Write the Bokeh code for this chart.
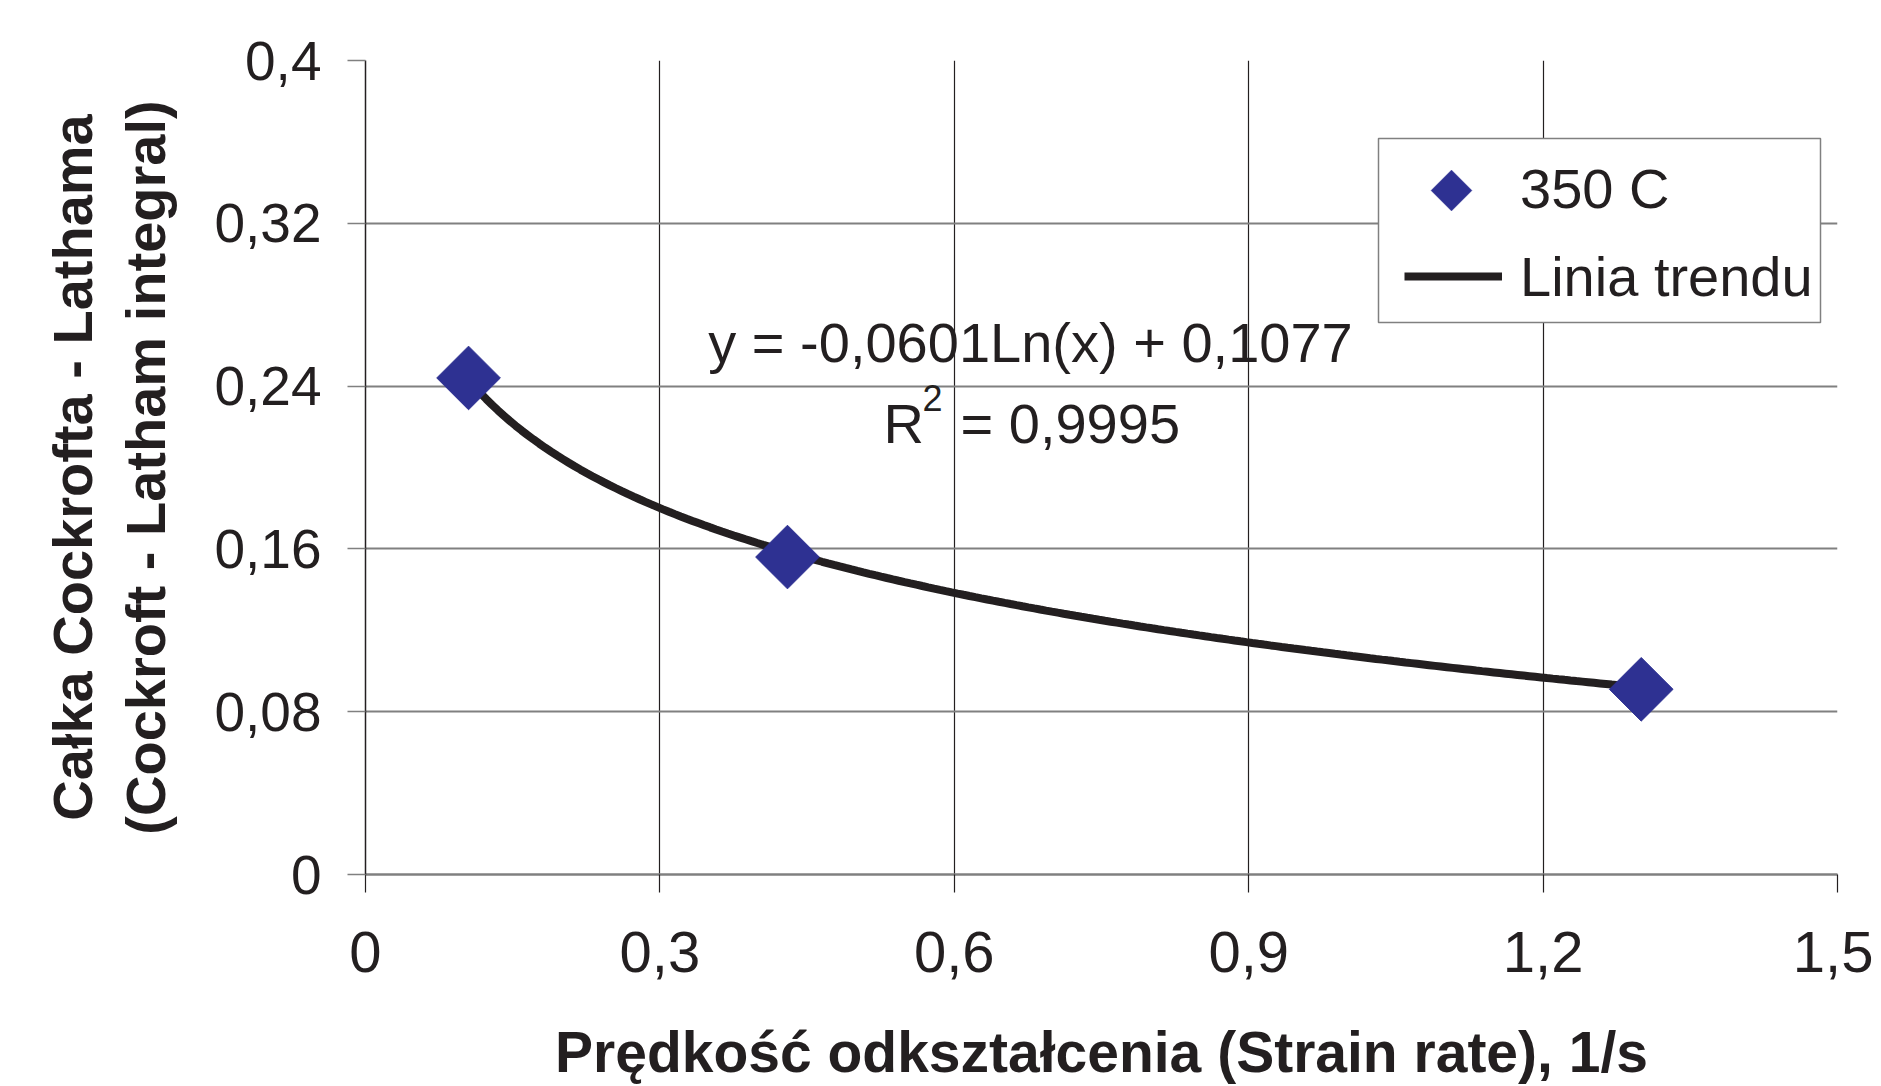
import numpy as np
from bokeh.plotting import figure
from bokeh.models import (Range1d, FixedTicker, CustomJSTickFormatter, Legend, LegendItem,
                          Label, PolyAnnotation, BoxAnnotation)
from bokeh.embed import file_html
from bokeh.resources import INLINE

# ---- data ----
strain_rate = [0.105, 0.43, 1.30]
cl_integral = [0.244, 0.156, 0.091]
trend_a = -0.0601   # y = a*Ln(x) + b
trend_b = 0.1077
r_squared = "0,9995"
x_ticks = [0, 0.3, 0.6, 0.9, 1.2, 1.5]
y_ticks = [0, 0.08, 0.16, 0.24, 0.32, 0.4]
series_name = "350 C"
trend_name = "Linia trendu"
x_title = "Prędkość odkształcenia (Strain rate), 1/s"
y_title = "Całka Cockrofta - Lathama\n(Cockroft - Latham integral)"

# trendline from the printed equation
tx = np.linspace(min(strain_rate), max(strain_rate), 200)
ty = trend_a * np.log(tx) + trend_b

FONT = "Liberation Sans"
TXT = "#231F20"
BLUE = "#2E3192"

X0, X1, Y0, Y1 = 0, 1.5, 0, 0.4
FW, FH = 1472, 814   # intended frame size in px

p = figure(width=1873, height=1086, output_backend="svg", toolbar_location=None,
           x_range=Range1d(X0, X1), y_range=Range1d(Y0, Y1),
           min_border_left=365, min_border_right=36, min_border_top=60, min_border_bottom=212)
p.outline_line_color = None
p.background_fill_color = "white"
p.border_fill_color = "white"

fmt = CustomJSTickFormatter(code="return String(Math.round(tick*100)/100).replace('.', ',');")

p.xaxis.ticker = FixedTicker(ticks=x_ticks)
p.yaxis.ticker = FixedTicker(ticks=y_ticks)
p.xaxis.formatter = fmt
p.yaxis.formatter = fmt

for ax in (p.xaxis, p.yaxis):
    ax.major_label_text_font = FONT
    ax.major_label_text_color = TXT
    ax.axis_label_text_font = FONT
    ax.axis_label_text_font_style = "bold"
    ax.axis_label_text_color = TXT
    ax.minor_tick_line_color = None
    ax.major_tick_in = 0
    ax.major_tick_out = 18

p.xaxis.major_label_text_font_size = "58px"
p.yaxis.major_label_text_font_size = "55px"
p.xaxis.axis_label_text_font_size = "57px"
p.yaxis.axis_label_text_font_size = "56px"
p.yaxis.axis_label_text_line_height = 1.17
p.xaxis.axis_label = x_title
p.yaxis.axis_label = y_title
p.xaxis.major_label_standoff = 39
p.xaxis.axis_label_standoff = 45
p.yaxis.major_label_standoff = 26
p.yaxis.axis_label_standoff = 34

p.xaxis.axis_line_color = "#808080"
p.xaxis.axis_line_width = 2.5
p.xaxis.major_tick_line_color = TXT
p.xaxis.major_tick_line_width = 1.2
p.yaxis.axis_line_color = TXT
p.yaxis.axis_line_width = 1.5
p.yaxis.major_tick_line_color = "#808080"
p.yaxis.major_tick_line_width = 1.5

p.xgrid.grid_line_color = TXT
p.xgrid.grid_line_width = 1.2
p.ygrid.grid_line_color = "#808080"
p.ygrid.grid_line_width = 2

line_r = p.line(tx, ty, line_color=TXT, line_width=8)
pts = p.scatter(strain_rate, cl_integral, marker="square", size=45, angle=np.pi/4,
                fill_color=BLUE, line_color=BLUE)
# invisible stand-in so the legend row keeps its slot; the diamond symbol is drawn below
key_r = p.scatter(x=[], y=[], marker="square", size=1, fill_alpha=0, line_alpha=0)

# legend frame box (screen px relative to the plot frame)
BOX_L, BOX_B, BOX_W, BOX_H = 1013, 552, 442, 184
p.add_layout(BoxAnnotation(left=BOX_L, right=BOX_L + BOX_W, bottom=BOX_B, top=BOX_B + BOX_H,
                           left_units="screen", right_units="screen",
                           bottom_units="screen", top_units="screen",
                           fill_color="white", fill_alpha=1.0,
                           line_color="#808080", line_width=1.5, line_alpha=1.0))

PAD, GW, GH, SPC = 12, 98, 80, 8
LEG_X = 1025
leg_h = 2 * PAD + 2 * GH + SPC
LEG_Y = BOX_B + BOX_H - leg_h
LEG_FIX = 14  # observed offset of a borderless legend
legend = Legend(items=[LegendItem(label=series_name, renderers=[key_r]),
                       LegendItem(label=trend_name, renderers=[line_r])],
                location=(LEG_X + LEG_FIX, LEG_Y + LEG_FIX), orientation="vertical",
                padding=PAD, spacing=SPC, glyph_width=GW, glyph_height=GH, label_standoff=18,
                label_text_font=FONT, label_text_font_size="56px", label_text_color=TXT,
                border_line_color=None, background_fill_alpha=0.0, margin=0)
p.add_layout(legend, "center")

# diamond legend symbol in the first legend row (frame px -> data units)
cx = (LEG_X + PAD + GW / 2) / FW * (X1 - X0) + X0
cy = (LEG_Y + leg_h - PAD - GH / 2) / FH * (Y1 - Y0) + Y0
hdx = 20.5 / FW * (X1 - X0)
hdy = 20.5 / FH * (Y1 - Y0)
p.add_layout(PolyAnnotation(xs=[cx, cx + hdx, cx, cx - hdx], ys=[cy + hdy, cy, cy - hdy, cy],
                            level="overlay",
                            fill_color=BLUE, fill_alpha=1.0, line_color=BLUE, line_width=1))

def xd(px):
    return (px - 365) / FW * (X1 - X0)

def yd(py):
    return (874 - py) / FH * (Y1 - Y0)

SHIFT = 20  # renderer places alphabetic baseline lower than requested
eq = "y = -0,0601Ln(x) + 0,1077"
p.add_layout(Label(x=xd(1030), y=yd(362 - SHIFT), text=eq, text_align="center", text_baseline="alphabetic",
                   text_font=FONT, text_font_size="56px", text_color=TXT))
p.add_layout(Label(x=xd(883), y=yd(443 - SHIFT), text="R", text_align="left", text_baseline="alphabetic",
                   text_font=FONT, text_font_size="56px", text_color=TXT))
p.add_layout(Label(x=xd(922), y=yd(417 - SHIFT), text="2", text_align="left", text_baseline="alphabetic",
                   text_font=FONT, text_font_size="36px", text_color=TXT))
p.add_layout(Label(x=xd(960), y=yd(443 - SHIFT), text="= " + r_squared, text_align="left", text_baseline="alphabetic",
                   text_font=FONT, text_font_size="56px", text_color=TXT))

open("out.html", "w").write(file_html(p, INLINE))
